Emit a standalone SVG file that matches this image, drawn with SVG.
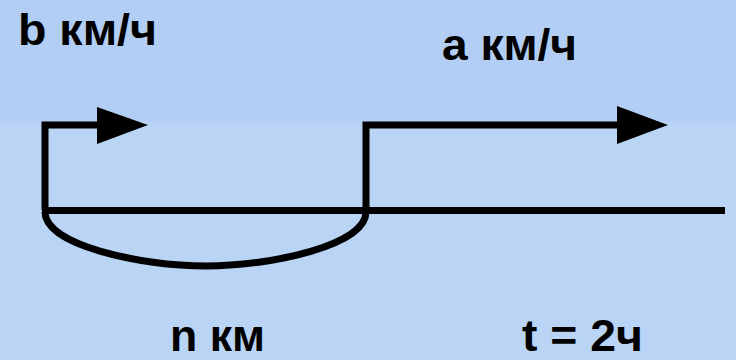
<svg xmlns="http://www.w3.org/2000/svg" width="736" height="360" viewBox="0 0 736 360">
<style>
.t{font-family:"Liberation Sans",Arial,sans-serif;font-weight:bold;font-size:45px;fill:#000}
.ln{stroke:#000;stroke-width:7;fill:none}
.hd{fill:#000}
</style>
<rect x="0" y="0" width="736" height="360" fill="#b9d4f4"/>
<rect x="0" y="0" width="736" height="121" fill="#b2cef5"/>
<g id="labels">
<text class="t" x="18" y="45" textLength="139" lengthAdjust="spacingAndGlyphs">b км/ч</text>
<text class="t" x="442" y="60" textLength="135" lengthAdjust="spacingAndGlyphs">a км/ч</text>
<text class="t" x="170" y="351" textLength="95" lengthAdjust="spacingAndGlyphs">n км</text>
<text class="t" x="522" y="351" textLength="121" lengthAdjust="spacingAndGlyphs">t = 2ч</text>
</g>
<g id="connectors">
<path class="ln" d="M45,210 V125 H99"/>
<polygon class="hd" points="97,107 148,125 97,144"/>
<path class="ln" d="M366,210 V125 H619"/>
<polygon class="hd" points="617,106 668,125 617,144"/>
<path class="ln" d="M42,210.5 H725"/>
<path class="ln" d="M45,212 C45,245 140,266 206,266 C272,266 366,245 366,212"/>
</g>
</svg>
